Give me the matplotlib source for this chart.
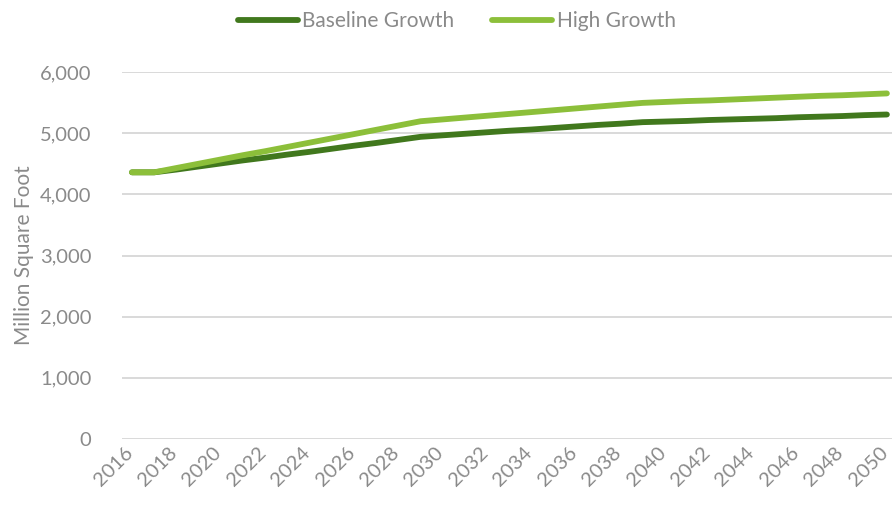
import matplotlib
matplotlib.use("Agg")
import matplotlib.pyplot as plt
from matplotlib.transforms import ScaledTranslation

years = list(range(2016, 2051))
baseline_growth = [4360, 4360, 4405, 4455, 4505, 4555, 4600, 4650, 4695, 4745,
                   4795, 4840, 4890, 4940, 4965, 4990, 5015, 5040, 5060, 5085,
                   5110, 5135, 5155, 5180, 5190, 5200, 5215, 5225, 5235, 5245,
                   5260, 5270, 5280, 5295, 5305]
high_growth = [4360, 4360, 4430, 4500, 4570, 4640, 4705, 4775, 4845, 4915,
               4985, 5055, 5125, 5195, 5225, 5255, 5285, 5315, 5345, 5375,
               5405, 5435, 5465, 5495, 5510, 5525, 5535, 5550, 5565, 5580,
               5595, 5610, 5620, 5635, 5650]
tick_years = list(range(2016, 2051, 2))
y_ticks = [0, 1000, 2000, 3000, 4000, 5000, 6000]

DARK = "#41781d"
LIGHT = "#8cbf3a"
TEXT = "#8a8a8a"
GRID = "#d9d9d9"

plt.rcParams["font.family"] = ["Lato", "DejaVu Sans"]

fig = plt.figure(figsize=(8.92, 5.05), dpi=100)
ax = fig.add_axes([122 / 892, 1 - 439 / 505, 770 / 892, (439 - 72) / 505])

ax.plot(years, baseline_growth, color=DARK, lw=4.2, solid_capstyle="round",
        solid_joinstyle="round", label="Baseline Growth", clip_on=False, zorder=3)
ax.plot(years, high_growth, color=LIGHT, lw=4.2, solid_capstyle="round",
        solid_joinstyle="round", label="High Growth", clip_on=False, zorder=4)

ax.set_xlim(2015.55, 2050.23)
ax.set_ylim(0, 6000)
ax.set_yticks(y_ticks)
ax.set_yticklabels([f"{v:,}" for v in y_ticks])
ax.set_xticks(tick_years)
ax.set_xticklabels([str(y) for y in tick_years], rotation=45, ha="right",
                   rotation_mode="anchor")

ax.tick_params(axis="both", length=0, labelsize=14.5, labelcolor=TEXT)
ax.tick_params(axis="y", pad=22)
ax.tick_params(axis="x", pad=4)
shift = ScaledTranslation(-8 / 100, 1 / 100, fig.dpi_scale_trans)
for lbl in ax.get_xticklabels():
    lbl.set_transform(lbl.get_transform() + shift)
ax.yaxis.grid(True, color=GRID, lw=1.4)
ax.set_axisbelow(True)
for s in ax.spines.values():
    s.set_visible(False)

ax.set_ylabel("Million Square Foot", fontsize=15, color=TEXT, labelpad=4)

fig.legend(loc="upper center", bbox_to_anchor=(0.512, 1.015), ncol=2,
           frameon=False, fontsize=15, labelcolor=TEXT, handlelength=2.9,
           handletextpad=0.2, columnspacing=1.8)

fig.savefig("out.png", dpi=100)
